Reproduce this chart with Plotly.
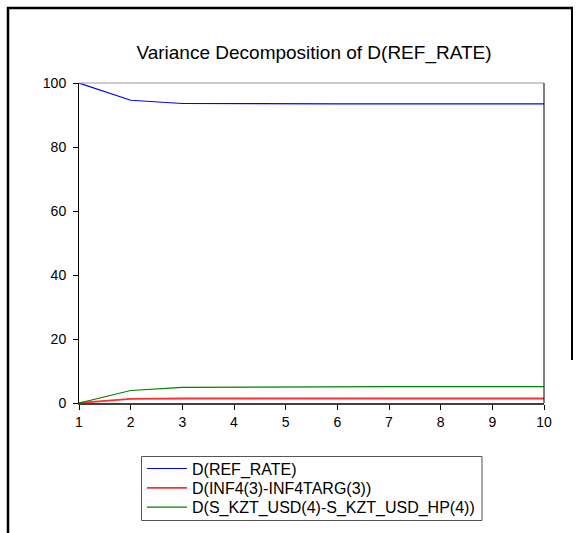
import plotly.graph_objects as go

periods = [1, 2, 3, 4, 5, 6, 7, 8, 9, 10]
ref_rate = [100.0, 94.6, 93.6, 93.5, 93.5, 93.5, 93.5, 93.5, 93.5, 93.5]
inf4 = [0.0, 1.3, 1.4, 1.4, 1.4, 1.4, 1.4, 1.4, 1.4, 1.4]
s_kzt = [0.0, 3.9, 4.9, 5.0, 5.1, 5.1, 5.1, 5.1, 5.1, 5.1]
names = ["D(REF_RATE)", "D(INF4(3)-INF4TARG(3))", "D(S_KZT_USD(4)-S_KZT_USD_HP(4))"]
colors = ["#0000FF", "#FF3030", "#008000"]
yticks = [0, 20, 40, 60, 80, 100]

W, H = 579, 533
L, R, T, B = 79, 544, 83, 403  # plot area pixels

def px(xp):
    return (xp - L) / (R - L)

def py(yp):
    return (B - yp) / (B - T)

legend_ids = ["legend", "legend2", "legend3"]
legend_rows = [468.6, 487.9, 507.3]

fig = go.Figure()
for vals, name, col, w, lg in zip([ref_rate, inf4, s_kzt], names, colors, [1.2, 1.8, 1.2], legend_ids):
    fig.add_trace(go.Scatter(x=periods, y=vals, mode="lines", name=name, legend=lg,
                             line=dict(color=col, width=w)))

shapes = [
    # outer frame
    dict(type="line", xref="paper", yref="paper", x0=px(8), x1=px(8), y0=py(7), y1=py(540),
         line=dict(color="black", width=2.5)),
    dict(type="line", xref="paper", yref="paper", x0=px(7), x1=px(573), y0=py(8), y1=py(8),
         line=dict(color="black", width=2.5)),
    dict(type="line", xref="paper", yref="paper", x0=px(572), x1=px(572), y0=py(7), y1=py(360),
         line=dict(color="black", width=2)),
    # plot top and right borders
    dict(type="line", xref="paper", yref="paper", x0=0, x1=1, y0=1, y1=1,
         line=dict(color="#999999", width=1)),
    dict(type="line", xref="paper", yref="paper", x0=1, x1=1, y0=0, y1=1,
         line=dict(color="black", width=1)),
    # legend box
    dict(type="rect", xref="paper", yref="paper", x0=px(141.5), x1=px(482), y0=py(456.5), y1=py(520.5),
         line=dict(color="#555555", width=1), fillcolor="rgba(0,0,0,0)"),
]

legend_style = dict(xanchor="left", yanchor="middle", bgcolor="rgba(0,0,0,0)", borderwidth=0,
                    font=dict(size=16, color="black"), itemwidth=40)

fig.update_layout(
    width=W, height=H,
    margin=dict(l=L, r=W - R, t=T, b=H - B, autoexpand=False),
    paper_bgcolor="white", plot_bgcolor="white",
    font=dict(family="Arial, Liberation Sans, sans-serif", color="black"),
    title=dict(text="Variance Decomposition of D(REF_RATE)", x=314 / W, xanchor="center",
               y=1 - 52 / H, yanchor="middle", yref="container",
               font=dict(size=19, color="black")),
    xaxis=dict(range=[1, 10], tickmode="array", tickvals=periods, ticks="outside",
               ticklen=5, tickcolor="black", showgrid=False, zeroline=False,
               showline=True, linecolor="#404040", linewidth=2,
               tickfont=dict(size=14)),
    yaxis=dict(range=[0, 100], tickmode="array", tickvals=yticks, ticks="outside",
               ticklen=5, tickcolor="black", showgrid=False, zeroline=False,
               showline=True, linecolor="black", linewidth=1,
               tickfont=dict(size=14), ticklabelstandoff=4),
    legend=dict(x=px(142), y=py(legend_rows[0]), **legend_style),
    legend2=dict(x=px(142), y=py(legend_rows[1]), **legend_style),
    legend3=dict(x=px(142), y=py(legend_rows[2]), **legend_style),
    shapes=shapes,
    showlegend=True,
)

fig.write_html("out.html", config={"displayModeBar": False},
               post_script="document.body.style.margin='0';")
